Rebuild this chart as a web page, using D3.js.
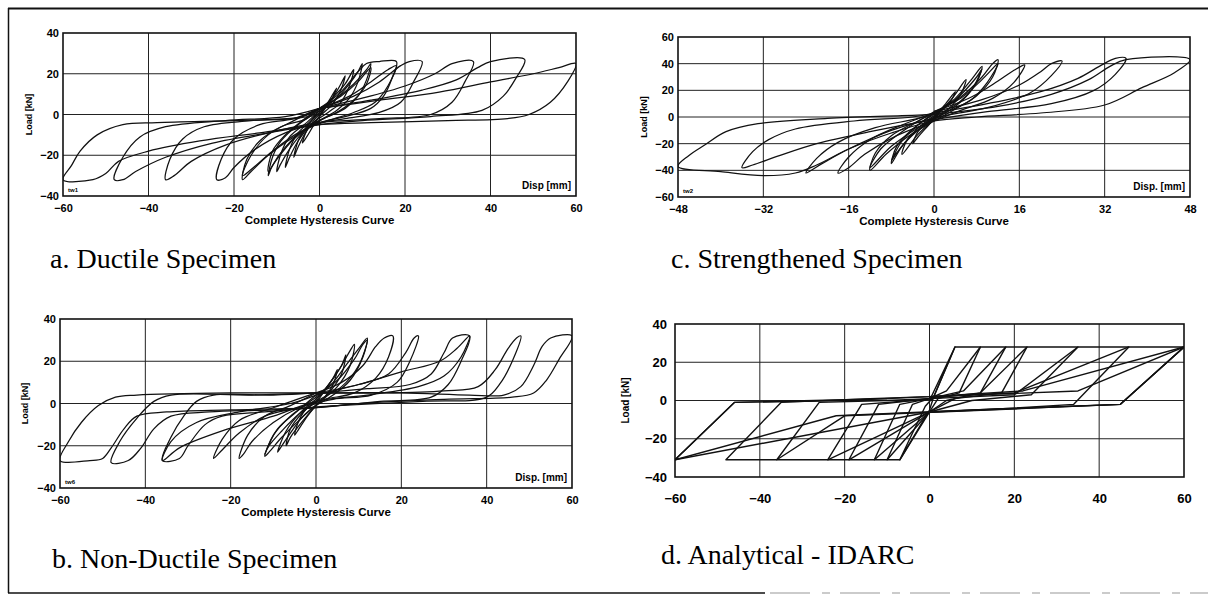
<!DOCTYPE html>
<html lang="en">
<head>
<meta charset="utf-8">
<title>Hysteresis curves</title>
<script src="https://d3js.org/d3.v7.min.js"></script>
<style>
  body { margin: 0; background: #fff; }
  .tick text { font-family: "Liberation Sans", Arial, sans-serif; font-weight: bold; fill: #000; }
</style>
</head>
<body>
<svg id="fig" width="1208" height="599"></svg>
<script>
// ---- data: [displacement mm, load kN] ----

// a. ductile specimen, one array per cycle
var ductileLoops = [
  [[0,0],[2,6],[4,13],[3,8],[1,2],[-1,-4],[-3,-11],[-4,-14],[-3,-8],[-1,-2],[0,0]],
  [[0,1],[3,8],[5,15],[6,19],[5,12],[3,5],[0,-1],[-3,-8],[-5,-16],[-6,-21],[-5,-13],[-3,-6],[0,1]],
  [[0,2],[3,8],[6,15],[8,22],[7,14],[5,6],[2,1],[-2,-5],[-5,-13],[-7,-21],[-8,-26],[-7,-17],[-5,-9],[-2,-3],[0,2]],
  [[0,2],[4,8],[7,15],[9,21],[10,25],[9,16],[7,8],[4,2],[0,-3],[-4,-9],[-7,-17],[-9,-24],[-10,-28],[-9,-19],[-7,-11],[-3,-4],[0,2]],
  [[0,3],[4,8],[8,15],[11,22],[12,25],[11,17],[9,9],[6,3],[1,-2],[-4,-8],[-8,-16],[-11,-25],[-12,-30],[-11,-21],[-9,-13],[-5,-5],[0,2]],
  [[0,3],[5,9],[9,16],[12,23],[11,15],[8,7],[4,1],[-1,-4],[-6,-12],[-10,-22],[-12,-28],[-11,-18],[-8,-10],[-4,-3],[0,3]],
  [[0,3],[5,11],[9,21],[11,25],[14,26],[18,26],[17,18],[15,9],[12,3],[6,-1],[0,-4],[-6,-11],[-12,-20],[-16,-28],[-18,-32],[-17,-22],[-14,-13],[-9,-6],[-3,-2],[0,3]],
  [[0,3],[7,9],[12,16],[16,22],[18,24],[16,14],[13,6],[8,1],[2,-3],[-5,-9],[-11,-18],[-16,-27],[-18,-30],[-16,-20],[-12,-10],[-6,-3],[0,3]],
  [[0,3],[8,9],[14,16],[19,24],[21,26],[24,26],[22,16],[19,6],[14,1],[6,-2],[0,-4],[-8,-9],[-15,-17],[-20,-26],[-22,-31],[-24,-32],[-23,-22],[-20,-12],[-14,-5],[-6,-2],[0,3]],
  [[0,3],[10,8],[20,14],[27,20],[31,25],[36,26],[34,16],[31,6],[26,0],[14,-2],[0,-4],[-10,-8],[-22,-15],[-30,-23],[-34,-30],[-36,-32],[-35,-22],[-32,-12],[-27,-6],[-16,-3],[-4,-1],[0,3]],
  [[0,3],[12,7],[24,12],[32,17],[37,23],[40,26],[48,27],[46,18],[43,9],[38,2],[26,-1],[10,-3],[0,-5],[-12,-9],[-25,-14],[-36,-21],[-43,-28],[-46,-32],[-48,-32],[-46,-21],[-42,-11],[-36,-6],[-22,-3],[-8,-1],[0,3]],
  [[0,3],[14,7],[28,11],[40,16],[50,20],[56,23],[60,25],[58,16],[54,6],[49,0],[44,-2],[30,-3],[12,-4],[0,-5],[-14,-9],[-28,-13],[-40,-18],[-47,-23],[-50,-29],[-53,-32],[-60,-32],[-58,-25],[-56,-18],[-52,-10],[-46,-5],[-38,-4],[-20,-3],[-6,-2],[0,0]]
];

// c. strengthened specimen
var strengthenedLoops = [
  [[0,0],[2,9],[4,19],[3,11],[1,3],[-1,-6],[-3,-15],[-4,-20],[-3,-11],[-1,-3],[0,0]],
  [[0,1],[3,12],[6,28],[5,17],[3,7],[0,-2],[-3,-13],[-6,-28],[-5,-17],[-2,-5],[0,1]],
  [[0,2],[4,14],[7,28],[9,38],[8,26],[5,12],[1,2],[-3,-10],[-6,-22],[-8,-35],[-7,-22],[-4,-9],[0,2]],
  [[0,3],[4,13],[8,30],[9,36],[7,20],[4,8],[0,-2],[-4,-13],[-7,-27],[-8,-33],[-6,-18],[-3,-6],[0,3]],
  [[0,3],[5,15],[9,30],[11,40],[12,43],[11,30],[8,16],[4,6],[0,-3],[-5,-15],[-9,-28],[-12,-40],[-11,-27],[-8,-14],[-3,-3],[0,3]],
  [[0,4],[5,14],[9,28],[12,40],[10,26],[7,13],[2,3],[-3,-8],[-8,-22],[-12,-38],[-10,-24],[-6,-11],[0,4]],
  [[0,4],[7,15],[12,27],[15,35],[17,39],[15,26],[11,14],[5,5],[0,-3],[-7,-14],[-13,-28],[-16,-38],[-18,-42],[-16,-30],[-12,-17],[-6,-6],[0,3]],
  [[0,4],[9,13],[16,24],[20,34],[22,40],[24,42],[22,31],[18,18],[10,7],[2,1],[-8,-10],[-16,-24],[-21,-35],[-24,-42],[-22,-31],[-18,-19],[-11,-8],[-3,-1],[0,3]],
  [[0,3],[10,10],[20,19],[27,29],[31,38],[34,44],[36,44],[34,32],[30,20],[22,10],[10,4],[0,-2],[-12,-11],[-22,-20],[-29,-29],[-34,-36],[-36,-38],[-34,-26],[-31,-17],[-26,-9],[-15,-3],[-4,0],[0,3]],
  [[0,2],[12,8],[22,17],[29,28],[33,38],[36,43],[48,43],[45,33],[39,22],[32,9],[20,3],[8,0],[0,-3],[-8,-12],[-16,-24],[-22,-36],[-26,-42],[-32,-44],[-40,-41],[-48,-37],[-46,-29],[-43,-21],[-39,-11],[-33,-5],[-20,-1],[-6,1],[0,2]]
];

// b. non-ductile specimen
var nonDuctileLoops = [
  [[0,0],[2,6],[4,12],[5,16],[4,9],[2,3],[0,-1],[-2,-6],[-4,-12],[-5,-15],[-4,-8],[-2,-2],[0,0]],
  [[0,1],[3,9],[6,18],[7,23],[6,14],[3,5],[0,-1],[-3,-8],[-6,-16],[-7,-20],[-6,-12],[-3,-4],[0,1]],
  [[0,2],[3,9],[6,18],[8,25],[9,28],[8,18],[5,8],[1,1],[-3,-6],[-6,-14],[-8,-20],[-9,-23],[-7,-13],[-4,-5],[0,2]],
  [[0,3],[4,10],[7,18],[10,26],[12,31],[11,22],[8,11],[4,4],[0,-1],[-4,-8],[-8,-16],[-11,-23],[-12,-25],[-10,-15],[-6,-6],[-2,0],[0,3]],
  [[0,4],[5,11],[9,21],[11,28],[12,30],[10,18],[6,8],[1,2],[-4,-5],[-8,-13],[-11,-20],[-12,-24],[-9,-12],[-4,-3],[0,4]],
  [[0,5],[6,10],[11,18],[14,27],[16,31],[18,32],[17,22],[14,12],[9,5],[2,2],[-4,-2],[-10,-9],[-15,-18],[-17,-24],[-18,-26],[-16,-15],[-12,-6],[-6,-1],[0,5]],
  [[0,5],[10,9],[17,14],[21,24],[23,31],[24,32],[22,20],[19,10],[13,4],[4,2],[-4,-2],[-12,-6],[-18,-14],[-22,-22],[-24,-26],[-22,-17],[-18,-8],[-10,-2],[0,5]],
  [[0,5],[12,7],[22,9],[27,14],[30,24],[32,31],[36,32],[34,20],[31,9],[27,3],[15,1],[0,-2],[-12,-4],[-22,-6],[-26,-10],[-30,-20],[-32,-26],[-36,-27],[-34,-16],[-31,-6],[-28,1],[-24,4],[-10,4],[0,5]],
  [[0,4],[10,9],[20,15],[29,20],[33,26],[36,32],[34,22],[30,13],[24,8],[12,4],[0,1],[-10,-6],[-22,-13],[-32,-21],[-36,-27],[-34,-18],[-28,-9],[-18,-4],[-6,0],[0,4]],
  [[0,5],[15,5],[30,6],[38,8],[42,16],[45,26],[47,31],[48,32],[46,20],[43,9],[40,3],[25,1],[5,-1],[-10,-3],[-25,-4],[-34,-6],[-38,-12],[-41,-21],[-44,-27],[-48,-28],[-46,-18],[-42,-7],[-38,1],[-34,4],[-15,4],[0,5]],
  [[0,5],[20,5],[36,4],[44,4],[48,8],[51,18],[53,27],[55,31],[60,32],[57,21],[54,11],[51,5],[46,3],[30,2],[10,0],[0,-2],[-20,-3],[-35,-4],[-42,-6],[-45,-12],[-48,-21],[-50,-26],[-53,-27],[-60,-27],[-58,-18],[-55,-9],[-51,-1],[-47,3],[-42,4],[-20,5],[0,5]]
];

// d. analytical model (IDARC), piecewise linear
var idarcLoops = [
  [[0,0],[6,28],[1,2],[0,-5],[-7,-31],[-1,-3],[1,2]],
  [[1,2],[6,28],[12,28],[7,4],[2,1],[0,-6],[-7,-31],[-10,-31],[-4,-2],[0,1]],
  [[0,1],[4,5],[12,28],[18,28],[12,4],[4,0],[0,-6],[-10,-31],[-13,-31],[-7,-2],[0,1]],
  [[0,1],[8,5],[18,28],[23,28],[17,4],[6,1],[0,-6],[-13,-31],[-19,-31],[-12,-2],[0,1]],
  [[0,1],[12,4],[23,28],[35,28],[24,3],[10,0],[0,-6],[-19,-31],[-24,-31],[-16,-2],[-4,0],[0,1]],
  [[0,1],[20,3],[35,28],[47,28],[34,-2],[20,-4],[0,-6],[-24,-31],[-36,-31],[-26,-1],[-10,0],[0,1]],
  [[0,2],[20,4],[47,28],[60,28],[45,-2],[24,-4],[2,-6],[-20,-8],[-36,-31],[-48,-31],[-35,-1],[-14,1],[0,2]],
  [[0,2],[22,5],[60,28],[45,-2],[0,-6],[-60,-31],[-46,-1],[-20,0],[0,2]],
  [[0,2],[35,5],[60,28],[45,-2],[20,-4],[-22,-8],[-60,-31],[-46,-1],[-10,1]]
];

var dispTicks60 = [-60, -40, -20, 0, 20, 40, 60];
var dispTicks48 = [-48, -32, -16, 0, 16, 32, 48];
var loadTicks40 = [-40, -20, 0, 20, 40];
var loadTicks60 = [-60, -40, -20, 0, 20, 40, 60];

var captions = ["a. Ductile Specimen", "b. Non-Ductile Specimen", "c. Strengthened Specimen", "d. Analytical - IDARC"];
var specimenTags = ["tw1", "tw6", "tw2"];
var dispTitles = ["Disp [mm]", "Disp. [mm]", "Disp. [mm]"];
var loadTitle = "Load [kN]";
var curveTitle = "Complete Hysteresis Curve";

// ---- drawing ----
var svg = d3.select("#fig");
var sans = "'Liberation Sans', Arial, sans-serif";
var serif = "'Liberation Serif', 'Times New Roman', serif";

// page frame
svg.append("line").attr("x1", 8).attr("x2", 1208).attr("y1", 8.5).attr("y2", 8.5)
  .attr("stroke", "#111").attr("stroke-width", 2);
svg.append("line").attr("x1", 8.5).attr("x2", 8.5).attr("y1", 8).attr("y2", 593)
  .attr("stroke", "#111").attr("stroke-width", 1.5);
svg.append("line").attr("x1", 8).attr("x2", 765).attr("y1", 593).attr("y2", 593)
  .attr("stroke", "#111").attr("stroke-width", 1.5);
svg.append("line").attr("x1", 770).attr("x2", 1208).attr("y1", 593).attr("y2", 593)
  .attr("stroke", "#bbb").attr("stroke-width", 1.5).attr("stroke-dasharray", "40,12,8,10");

var drawPanel = function(loops, o, idx)
{
  var x = d3.scaleLinear().domain(o.xDomain).range([o.left, o.right]);
  var y = d3.scaleLinear().domain(o.yDomain).range([o.bottom, o.top]);
  var g = svg.append("g");

  // grid
  g.selectAll(".gx").data(o.xTicks.slice(1, -1)).enter().append("line")
    .attr("x1", function(d) { return x(d); }).attr("x2", function(d) { return x(d); })
    .attr("y1", o.top).attr("y2", o.bottom)
    .attr("stroke", "#222").attr("stroke-width", 1);
  g.selectAll(".gy").data(o.yTicks.slice(1, -1)).enter().append("line")
    .attr("y1", function(d) { return y(d); }).attr("y2", function(d) { return y(d); })
    .attr("x1", o.left).attr("x2", o.right)
    .attr("stroke", "#222").attr("stroke-width", 1);

  // axes (labels only)
  var ax = g.append("g").attr("transform", "translate(0," + o.bottom + ")")
    .call(d3.axisBottom(x).tickValues(o.xTicks).tickSize(0).tickPadding(o.xPad));
  var ay = g.append("g").attr("transform", "translate(" + o.left + ",0)")
    .call(d3.axisLeft(y).tickValues(o.yTicks).tickSize(0).tickPadding(o.yPad));
  ax.select(".domain").remove();
  ay.select(".domain").remove();
  ax.selectAll("text").style("font-size", o.tickSize + "px");
  ay.selectAll("text").style("font-size", o.tickSize + "px");

  // curves
  var clipId = "clip" + idx;
  g.append("clipPath").attr("id", clipId).append("rect")
    .attr("x", o.left).attr("y", o.top)
    .attr("width", o.right - o.left).attr("height", o.bottom - o.top);
  var line = d3.line()
    .x(function(d) { return x(d[0]); })
    .y(function(d) { return y(d[1]); })
    .curve(o.linear ? d3.curveLinear : d3.curveCatmullRom.alpha(0.5));
  g.append("g").attr("clip-path", "url(#" + clipId + ")")
    .selectAll("path").data(loops).enter().append("path")
    .attr("d", line)
    .attr("fill", "none")
    .attr("stroke", "#111")
    .attr("stroke-width", o.linear ? 1.4 : 1.25)
    .attr("stroke-linejoin", "round");

  // frame
  g.append("rect").attr("x", o.left).attr("y", o.top)
    .attr("width", o.right - o.left).attr("height", o.bottom - o.top)
    .attr("fill", "none").attr("stroke", "#111").attr("stroke-width", 1.6);

  // titles
  g.append("text")
    .attr("transform", "translate(" + (o.left - o.loadOff) + "," + ((o.top + o.bottom) / 2) + ") rotate(-90)")
    .attr("text-anchor", "middle").attr("dy", "0.35em")
    .style("font-family", sans).style("font-weight", "bold").style("font-size", o.loadSize + "px")
    .text(loadTitle);

  if (o.tag)
  {
    g.append("text").attr("x", o.left + 5).attr("y", o.bottom - 4)
      .style("font-family", sans).style("font-size", "6px").style("font-weight", "bold")
      .text(o.tag);
    g.append("text").attr("x", o.right - 5).attr("y", o.bottom - 7)
      .attr("text-anchor", "end")
      .style("font-family", sans).style("font-weight", "bold").style("font-size", "10px")
      .text(o.disp);
    g.append("text").attr("x", (o.left + o.right) / 2).attr("y", o.bottom + 28)
      .attr("text-anchor", "middle")
      .style("font-family", sans).style("font-weight", "bold").style("font-size", "11.5px")
      .text(curveTitle);
  }

  g.append("text").attr("x", o.capX).attr("y", o.capY)
    .style("font-family", serif).style("font-size", "28px")
    .text(o.caption);
};

drawPanel(ductileLoops, {
  left: 63, right: 576, top: 33, bottom: 196,
  xDomain: [-60, 60], yDomain: [-40, 40], xTicks: dispTicks60, yTicks: loadTicks40,
  xPad: 8, yPad: 4, tickSize: 11, loadOff: 34, loadSize: 9,
  tag: specimenTags[0], disp: dispTitles[0], caption: captions[0], capX: 50, capY: 268
}, 0);

drawPanel(strengthenedLoops, {
  left: 678, right: 1190, top: 37, bottom: 197,
  xDomain: [-48, 48], yDomain: [-60, 60], xTicks: dispTicks48, yTicks: loadTicks60,
  xPad: 8, yPad: 4, tickSize: 11, loadOff: 34, loadSize: 9,
  tag: specimenTags[2], disp: dispTitles[2], caption: captions[2], capX: 671, capY: 268
}, 1);

drawPanel(nonDuctileLoops, {
  left: 60, right: 572, top: 319, bottom: 488,
  xDomain: [-60, 60], yDomain: [-40, 40], xTicks: dispTicks60, yTicks: loadTicks40,
  xPad: 8, yPad: 4, tickSize: 11, loadOff: 35, loadSize: 9,
  tag: specimenTags[1], disp: dispTitles[1], caption: captions[1], capX: 52, capY: 568
}, 2);

drawPanel(idarcLoops, {
  left: 675, right: 1184, top: 324, bottom: 477,
  xDomain: [-60, 60], yDomain: [-40, 40], xTicks: dispTicks60, yTicks: loadTicks40,
  xPad: 17, yPad: 8, tickSize: 13, loadOff: 50, loadSize: 10,
  linear: true, caption: captions[3], capX: 661, capY: 564
}, 3);
</script>
</body>
</html>
